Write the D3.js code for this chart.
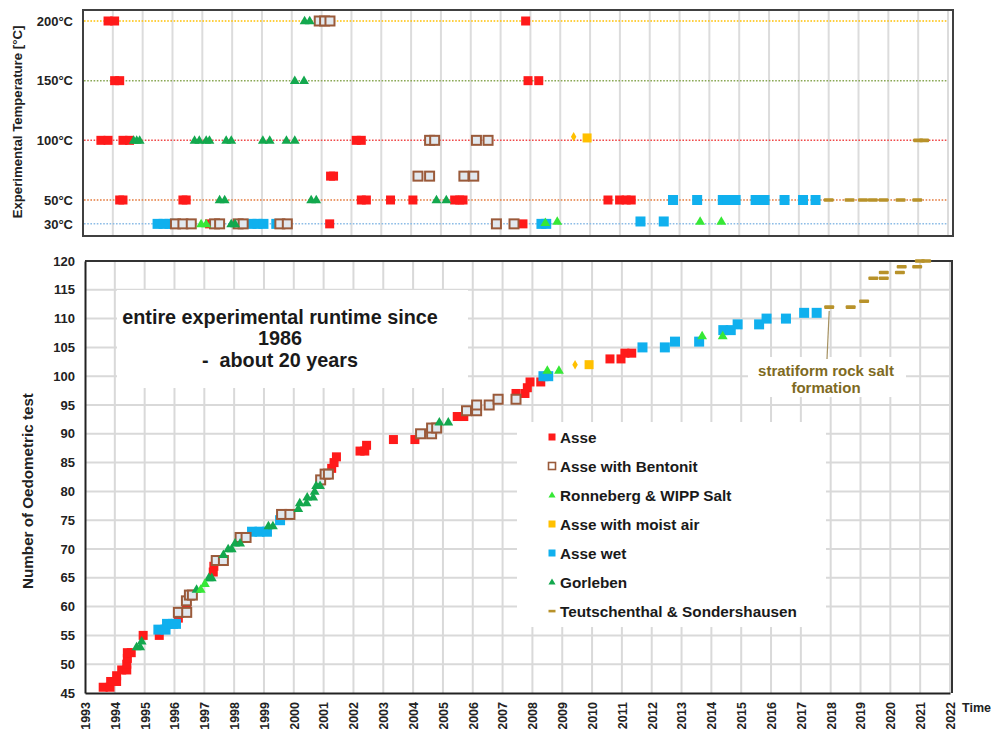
<!DOCTYPE html>
<html><head><meta charset="utf-8">
<script src="https://cdn.jsdelivr.net/npm/d3@7"></script>
<style>
body{margin:0;background:#fff}
svg{display:block;font-family:"Liberation Sans",Arial,sans-serif;font-weight:bold}
</style>
</head><body>
<svg id="c" width="991" height="729"></svg>
<script>
// ---------------- DATA ----------------
const yearTicks = d3.range(1993, 2023);
const tempTicks = [30, 50, 100, 150, 200];
const tempLabels = ["30°C", "50°C", "100°C", "150°C", "200°C"];
const countTicks = d3.range(45, 121, 5);

const seriesNames = ["Asse", "Asse with Bentonit", "Ronneberg & WIPP Salt", "Asse with moist air", "Asse wet", "Gorleben", "Teutschenthal & Sondershausen"];

// Bottom panel: [year, number of test]
const asseCount = [[1993.61,46],[1993.84,46],[1993.86,47],[1994.06,47],[1994.06,48],[1994.23,49],[1994.4,49],[1994.4,50],[1994.42,51],[1994.42,52],[1994.55,52],[1994.95,55],[1995.49,55],[1996.13,58],[1996.4,60],[1997.3,66],[1997.32,67],[2001.27,84],[2001.35,85],[2001.43,86],[2002.22,87],[2002.38,87],[2002.44,88],[2003.34,89],[2004.06,89],[2005.48,93],[2005.7,93],[2007.45,97],[2007.75,97],[2007.83,98],[2007.92,99],[2008.28,99],[2010.6,103],[2010.97,103],[2011.1,104],[2011.33,104]];
const bentonitCount = [[1996.13,59],[1996.41,59],[1996.4,61],[1996.5,62],[1996.6,62],[1997.4,68],[1997.64,68],[1998.2,72],[1998.4,72],[1999.59,76],[1999.87,76],[2000.9,82],[2001.05,83],[2001.16,83],[2004.25,90],[2004.62,90],[2004.62,91],[2004.79,91],[2005.79,94],[2006.13,94],[2006.13,95],[2006.55,95],[2006.85,96],[2007.45,96]];
const ronnebergCount = [[1996.88,63],[1997.02,64],[2008.5,101],[2008.89,101],[2013.69,107],[2014.38,107]];
const moistCount = [[2009.9,102]];
const moistDiamondCount = [[2009.43,102]];
const wetCount = [[1995.46,56],[1995.7,56],[1995.75,57],[1995.95,57],[1996.05,57],[1998.6,73],[1998.85,73],[1999.1,73],[1999.54,75],[2008.37,100],[2008.53,100],[2011.69,105],[2012.44,105],[2012.78,106],[2013.59,106],[2014.4,108],[2014.65,108],[2014.88,109],[2015.6,109],[2015.85,110],[2016.5,110],[2017.11,111],[2017.53,111]];
const gorlebenCount = [[1994.73,53],[1994.85,53],[1994.9,54],[1996.74,63],[1997.15,65],[1997.25,65],[1997.64,69],[1997.8,70],[1997.92,70],[1998.03,71],[1998.2,71],[1999.15,74],[1999.3,74],[2000.15,77],[2000.2,78],[2000.43,78],[2000.45,79],[2000.65,79],[2000.7,80],[2000.75,81],[2000.88,81],[2004.88,92],[2005.18,92]];
const teutCount = [[2017.95,112],[2018.67,112],[2019.12,113],[2019.43,117],[2019.78,117],[2019.78,118],[2020.32,118],[2020.38,119],[2020.9,119],[2020.99,120],[2021.2,120]];

// Top panel: [year, temperature °C]
const asseTemp = [[1993.84,200],[1994.06,200],[2007.84,200],[1994.06,150],[1994.23,150],[2007.92,150],[2008.28,150],[1993.6,100],[1993.84,100],[1994.34,100],[1994.56,100],[2002.16,100],[2002.33,100],[2001.3,70],[2001.4,70],[1994.23,50],[1994.34,50],[1996.35,50],[1996.46,50],[2002.33,50],[2002.5,50],[2003.31,50],[2004.06,50],[2005.46,50],[2005.63,50],[2005.74,50],[2010.6,50],[2010.99,50],[2011.21,50],[2011.38,50],[1997.24,30],[2001.27,30],[2007.75,30]];
const bentonitTemp = [[2000.92,200],[2001.1,200],[2001.28,200],[2004.62,100],[2004.79,100],[2006.19,100],[2006.58,100],[2004.23,70],[2004.62,70],[2005.77,70],[2006.1,70],[1996.1,30],[1996.35,30],[1996.63,30],[1997.41,30],[1997.58,30],[1998.2,30],[1998.37,30],[1999.6,30],[1999.85,30],[2006.86,30],[2007.45,30]];
const ronnebergTemp = [[1996.96,30],[1997.13,30],[2008.5,31],[2008.9,32],[2013.69,32],[2014.4,32]];
const moistTemp = [[2009.9,102]];
const moistDiamondTemp = [[2009.45,103]];
const wetTemp = [[1995.5,30],[1995.7,30],[1995.9,30],[1996.05,30],[1998.65,30],[1998.85,30],[1999.05,30],[1999.48,30],[2008.37,30],[2008.53,30],[2011.69,32],[2012.47,32],[2012.78,50],[2013.59,50],[2014.45,50],[2014.6,50],[2014.75,50],[2014.88,50],[2015.55,50],[2015.7,50],[2015.85,50],[2016.52,50],[2017.14,50],[2017.56,50]];
const gorlebenTemp = [[2000.43,200],[2000.6,200],[2000.1,150],[2000.41,150],[1994.7,100],[1994.8,100],[1994.9,100],[1996.74,100],[1996.9,100],[1997.13,100],[1997.24,100],[1997.8,100],[1997.97,100],[1999.03,100],[1999.26,100],[1999.82,100],[2000.1,100],[1997.58,50],[1997.75,50],[2000.65,50],[2000.82,50],[2004.85,50],[2005.18,50],[1997.97,30],[1998.1,30]];
const teutTemp = [[2018.0,50],[2018.7,50],[2019.15,50],[2019.48,50],[2019.84,50],[2020.41,50],[2020.97,50],[2021.0,100],[2021.2,100]];

// ---------------- STYLES ----------------
const C = {red:"#ff1a1a", brown:"#9a5a3a", bfill:"#e2e8ee", lime:"#36e836", orange:"#ffc000", blue:"#10b0ee", green:"#13a84e", gold:"#b8922a"};
const guideColor = {200:"#ffc000",150:"#8aa856",100:"#f04848",50:"#e47a3c",30:"#8cbce6"};

const svg = d3.select("#c");

const xB = d3.scaleLinear().domain([1993, 2022]).range([85, 950]);
const yB = d3.scaleLinear().domain([45, 120]).range([693, 261]);
const xT = d3.scaleLinear().domain([1993, 2022]).range([83, 948]);
const yT = d3.scaleLinear().domain([50, 200]).range([200, 21]);

function drawMarkers(g, data, xs, ys, kind) {
  const sel = g.selectAll(null).data(data).enter();
  if (kind === "red") sel.append("rect").attr("x",d=>xs(d[0])-4.5).attr("y",d=>ys(d[1])-4.5).attr("width",9).attr("height",9).attr("fill",C.red);
  if (kind === "blue") sel.append("rect").attr("x",d=>xs(d[0])-5).attr("y",d=>ys(d[1])-5).attr("width",10).attr("height",10).attr("fill",C.blue);
  if (kind === "orange") sel.append("rect").attr("x",d=>xs(d[0])-4.5).attr("y",d=>ys(d[1])-4.5).attr("width",9).attr("height",9).attr("fill",C.orange);
  if (kind === "diamond") sel.append("path").attr("d",d3.symbol().type(d3.symbolDiamond).size(26)).attr("transform",d=>`translate(${xs(d[0])},${ys(d[1])})`).attr("fill",C.orange);
  if (kind === "brown") sel.append("rect").attr("x",d=>xs(d[0])-4.5).attr("y",d=>ys(d[1])-4.5).attr("width",9).attr("height",9).attr("fill",C.bfill).attr("stroke",C.brown).attr("stroke-width",2);
  if (kind === "green" || kind === "lime") sel.append("path").attr("d",d3.symbol().type(d3.symbolTriangle).size(42)).attr("transform",d=>`translate(${xs(d[0])},${ys(d[1])+0.5})`).attr("fill",kind==="green"?C.green:C.lime);
  if (kind === "gold") sel.append("rect").attr("x",d=>xs(d[0])-5).attr("y",d=>ys(d[1])-1.8).attr("width",10).attr("height",3.6).attr("rx",1).attr("fill",C.gold);
}

// ---------------- TOP PANEL ----------------
const topG = svg.append("g");
topG.append("rect").attr("x",83).attr("y",10).attr("width",870).attr("height",226).attr("fill","#fff");
topG.append("g").selectAll("line").data(yearTicks.slice(1)).enter().append("line")
  .attr("x1",d=>xT(d)).attr("x2",d=>xT(d)).attr("y1",10).attr("y2",236)
  .attr("stroke","#dcdcdc").attr("stroke-width",2);
topG.append("g").selectAll("line").data(tempTicks).enter().append("line")
  .attr("x1",84).attr("x2",947).attr("y1",d=>yT(d)).attr("y2",d=>yT(d))
  .attr("stroke",d=>guideColor[d]).attr("stroke-width",1.5).attr("stroke-dasharray","1.6,1.6");
topG.append("rect").attr("x",83).attr("y",10).attr("width",870).attr("height",226).attr("fill","none").attr("stroke","#404040").attr("stroke-width",2);
const yAxT = d3.axisLeft(yT).tickValues(tempTicks).tickFormat((d,i)=>tempLabels[i]).tickSize(0).tickPadding(10);
topG.append("g").attr("transform","translate(83,0)").call(yAxT)
  .call(g=>g.select(".domain").remove())
  .selectAll("text").attr("font-size",13).attr("font-weight","bold").attr("fill","#222").attr("font-family","Liberation Sans, Arial, sans-serif");
svg.append("text").attr("transform","translate(22,122) rotate(-90)").attr("text-anchor","middle")
  .attr("font-size",13.2).attr("fill","#222").text("Experimental Temperature [°C]");

const tm = topG.append("g");
drawMarkers(tm, asseTemp, xT, yT, "red");
drawMarkers(tm, wetTemp, xT, yT, "blue");
drawMarkers(tm, bentonitTemp, xT, yT, "brown");
drawMarkers(tm, gorlebenTemp, xT, yT, "green");
drawMarkers(tm, ronnebergTemp, xT, yT, "lime");
drawMarkers(tm, moistTemp, xT, yT, "orange");
drawMarkers(tm, moistDiamondTemp, xT, yT, "diamond");
drawMarkers(tm, teutTemp, xT, yT, "gold");

// ---------------- BOTTOM PANEL ----------------
const bot = svg.append("g");
bot.append("g").selectAll("line").data(yearTicks.slice(1)).enter().append("line")
  .attr("x1",d=>xB(d)).attr("x2",d=>xB(d)).attr("y1",261).attr("y2",693)
  .attr("stroke","#d9d9d9").attr("stroke-width",2);
bot.append("g").selectAll("line").data(countTicks.slice(1)).enter().append("line")
  .attr("x1",85).attr("x2",952).attr("y1",d=>yB(d)).attr("y2",d=>yB(d))
  .attr("stroke","#d9d9d9").attr("stroke-width",2);

bot.append("rect").attr("x",117).attr("y",290).attr("width",351).attr("height",98).attr("fill","#fff");
bot.append("rect").attr("x",517).attr("y",422).attr("width",309).attr("height",205).attr("fill","#fff");
bot.append("rect").attr("x",748).attr("y",357).attr("width",158).attr("height",40).attr("fill","#fff");

bot.append("path").attr("d","M85,261H952V693").attr("fill","none").attr("stroke","#333").attr("stroke-width",2);

const xAxB = d3.axisBottom(xB).tickValues(yearTicks).tickFormat(d3.format("d")).tickSize(0).tickPadding(0);
bot.append("g").attr("transform","translate(0,693)").call(xAxB)
  .call(g=>g.select(".domain").attr("stroke","#222").attr("stroke-width",2))
  .selectAll("text").attr("transform","rotate(-90)").attr("text-anchor","end")
  .attr("x",-9).attr("y",0).attr("dy","0.35em")
  .attr("font-size",12.5).attr("font-weight","bold").attr("fill","#222").attr("font-family","Liberation Sans, Arial, sans-serif");
const yAxB = d3.axisLeft(yB).tickValues(countTicks).tickSize(0).tickPadding(10);
bot.append("g").attr("transform","translate(85,0)").call(yAxB)
  .call(g=>g.select(".domain").attr("stroke","#222").attr("stroke-width",2))
  .selectAll("text").attr("font-size",13).attr("font-weight","bold").attr("fill","#222").attr("font-family","Liberation Sans, Arial, sans-serif");
svg.append("text").attr("transform","translate(33,491) rotate(-90)").attr("text-anchor","middle")
  .attr("font-size",15.2).attr("fill","#222").text("Number of Oedometric test");
svg.append("text").attr("x",962).attr("y",712).attr("font-size",12.5).attr("fill","#222").text("Time");

const tb = svg.append("text").attr("text-anchor","middle").attr("font-size",19.8).attr("fill","#1a1a1a");
[["entire experimental runtime since",324],["1986",345],["-  about 20 years",367]].forEach(([t,y])=>{
  tb.append("tspan").attr("x",280).attr("y",y).attr("xml:space","preserve").text(t);
});

svg.append("line").attr("x1",827).attr("y1",359).attr("x2",xB(2017.95)).attr("y2",yB(112)+4)
  .attr("stroke","#a59060").attr("stroke-width",1.2);
const an = svg.append("text").attr("text-anchor","middle").attr("font-size",15).attr("fill","#7e6a22");
an.append("tspan").attr("x",826).attr("y",376).text("stratiform rock salt");
an.append("tspan").attr("x",826).attr("y",393).text("formation");

const bm = bot.append("g");
drawMarkers(bm, asseCount, xB, yB, "red");
drawMarkers(bm, wetCount, xB, yB, "blue");
drawMarkers(bm, bentonitCount, xB, yB, "brown");
drawMarkers(bm, gorlebenCount, xB, yB, "green");
drawMarkers(bm, ronnebergCount, xB, yB, "lime");
drawMarkers(bm, moistCount, xB, yB, "orange");
drawMarkers(bm, moistDiamondCount, xB, yB, "diamond");
drawMarkers(bm, teutCount, xB, yB, "gold");

const kinds = ["red","brown","lime","orange","blue","green","gold"];
const lg = svg.append("g");
seriesNames.forEach((name,i)=>{
  const y = 437 + i*29;
  const cx = 552;
  const k = kinds[i];
  if (k==="red"||k==="orange"||k==="blue") lg.append("rect").attr("x",cx-3.5).attr("y",y-3.5).attr("width",7).attr("height",7).attr("fill",C[k]);
  if (k==="brown") lg.append("rect").attr("x",cx-3.5).attr("y",y-3.5).attr("width",7).attr("height",7).attr("fill","#fff").attr("stroke",C.brown).attr("stroke-width",1.6);
  if (k==="lime"||k==="green") lg.append("path").attr("d",d3.symbol().type(d3.symbolTriangle).size(22)).attr("transform",`translate(${cx},${y+0.5})`).attr("fill",C[k]);
  if (k==="gold") lg.append("rect").attr("x",cx-3.5).attr("y",y-1.2).attr("width",7).attr("height",2.6).attr("fill",C.gold);
  lg.append("text").attr("x",cx+8).attr("y",y+5.5).attr("font-size",15.3).attr("fill","#1a1a1a").text(name);
});
</script>
</body></html>
